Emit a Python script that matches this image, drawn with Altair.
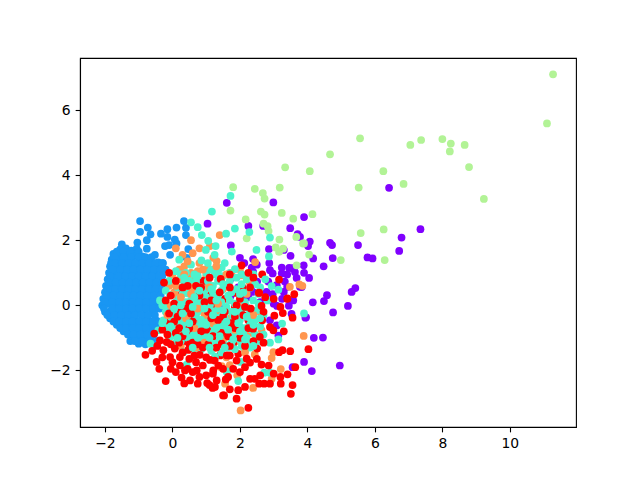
import altair as alt
import pandas as pd

purple = [(6.42,3.61),(7.35,2.34),(6.79,2.08),(6.72,1.67),(4.07,1.96),(4.02,1.82),(3.78,2.1),(4.67,1.92),(4.73,1.85),
(5.5,1.85),(5.78,1.47),(5.93,1.44),(4.17,1.44),(4.75,1.45),(4.48,1.2),(3.89,1.23),(3.9,1.0),(4.05,0.84),(3.83,0.56),
(5.42,0.53),(5.31,0.41),(4.58,0.31),(4.49,0.13),(4.16,0.09),(5.2,-0.02),(4.76,-0.22),(3.94,-0.38),(4.19,-1.0),(4.46,-0.99),
(3.9,-1.74),(4.13,-2.02),(4.96,-1.85),(3.9,2.71),(1.61,3.15),(2.99,3.16),(1.04,2.51),(2.25,2.44),(2.69,2.44),(3.49,2.37),
(3.71,2.19),(1.73,1.84),(2.86,1.73),(3.3,1.7),(3.5,1.52),(2.0,1.46),(2.39,1.42),(2.13,1.3),(2.5,1.25),(2.35,1.16),(2.87,1.3),
(2.89,1.08),(3.24,1.16),(3.46,1.15),(3.56,1.14),(2.97,0.98),(3.24,0.98),(3.4,0.95),(3.63,1.02),(3.68,0.84),(2.39,1.03),
(2.51,0.73),(2.84,0.73),(3.33,0.73),(3.09,0.62),(3.4,0.57),(3.78,0.57),(1.75,0.84),(2.79,0.41),(3.3,0.41),(2.39,0.41),
(2.25,0.25),(3.14,-0.93),(3.1,-0.02),(3.45,-0.01),(3.58,0.15),(3.53,-0.26),(2.89,-0.46),(3.09,-0.62),(2.18,0.26),(1.72,0.28),
(2.97,0.34),(1.46,-0.1),(3.56,-1.9),(3.96,-0.37),(2.6,0.1),(3.0,0.05),(1.95,0.55),(3.25,0.2)]

green = [(11.28,7.1),(11.1,5.59),(5.56,5.13),(7.05,4.93),(7.37,5.08),(8.0,5.11),(8.25,4.97),(8.66,4.93),(8.22,4.73),(8.79,4.25),
(9.23,3.27),(4.67,4.64),(6.25,4.12),(4.07,4.12),(5.52,3.62),(6.85,3.73),(4.15,2.8),(5.58,2.22),(6.26,2.33),(6.29,1.39),
(4.99,1.39),(3.87,1.9),(4.05,1.56),(1.8,3.63),(2.44,3.58),(3.18,3.62),(2.68,3.45),(2.73,3.28),(1.72,2.91),(2.62,2.88),
(2.73,2.79),(3.24,2.84),(3.58,2.66),(2.17,2.64),(2.7,2.51),(2.82,2.43),(2.85,2.28),(2.2,2.06),(3.17,2.02),(3.67,2.1),
(3.9,1.9),(3.06,1.78),(3.28,1.74),(3.16,1.64),(3.68,1.23),(3.34,4.24)]

blue = [(-0.96,2.59),(-0.73,2.39),(-0.96,2.26),(-0.65,2.18),(-0.34,2.2),(-0.15,2.34),(0.12,2.39),(0.34,2.59),(0.4,2.38),(0.4,2.16),
(-0.15,2.1),(0.07,2.02),(-0.76,2.0),(-1.04,1.93),(-1.06,1.74),(-1.5,1.87),(-0.76,1.74),(-0.52,1.55),(-0.22,1.82),(-0.1,1.85),
(0.12,1.9),(-0.07,1.55),(0.47,1.73),(0.42,1.46),(-0.28,1.3),
(-1.55,1.72),(-1.38,1.75),(-1.22,1.68),(-1.75,1.58),(-1.55,1.56),(-1.33,1.58),(-1.12,1.52),(-0.9,1.5),(-0.72,1.42),
(-1.8,1.4),(-1.6,1.38),(-1.4,1.42),(-1.2,1.36),(-1.0,1.33),(-0.8,1.3),(-0.6,1.25),(-0.42,1.32),(-0.2,1.1),
(-1.85,1.2),(-1.65,1.22),(-1.45,1.2),(-1.25,1.18),(-1.05,1.15),(-0.85,1.12),(-0.65,1.08),(-0.45,1.12),
(-1.88,1.0),(-1.7,1.03),(-1.5,1.0),(-1.3,0.98),(-1.1,0.96),(-0.9,0.94),(-0.7,0.9),(-0.5,0.92),(-0.3,0.9),
(-1.92,0.8),(-1.72,0.84),(-1.52,0.8),(-1.32,0.78),(-1.12,0.76),(-0.92,0.74),(-0.72,0.72),(-0.52,0.74),(-0.35,0.7),
(-1.97,0.6),(-1.78,0.64),(-1.58,0.6),(-1.38,0.58),(-1.18,0.56),(-0.98,0.54),(-0.78,0.52),(-0.58,0.54),(-0.4,0.5),
(-2.0,0.4),(-1.8,0.44),(-1.6,0.4),(-1.4,0.38),(-1.2,0.36),(-1.0,0.34),(-0.8,0.32),(-0.6,0.34),(-0.42,0.3),
(-2.05,0.2),(-1.85,0.24),(-1.65,0.2),(-1.45,0.18),(-1.25,0.16),(-1.05,0.14),(-0.85,0.12),(-0.65,0.14),(-0.45,0.1),
(-2.08,0.0),(-1.88,0.04),(-1.68,0.0),(-1.48,-0.02),(-1.28,-0.04),(-1.08,-0.06),(-0.88,-0.08),(-0.68,-0.06),(-0.48,-0.1),
(-2.0,-0.2),(-1.82,-0.17),(-1.62,-0.2),(-1.42,-0.22),(-1.22,-0.24),(-1.02,-0.26),(-0.82,-0.28),(-0.62,-0.26),
(-1.85,-0.4),(-1.68,-0.37),(-1.5,-0.4),(-1.3,-0.42),(-1.1,-0.44),(-0.9,-0.46),(-0.7,-0.48),(-0.5,-0.45),
(-1.65,-0.6),(-1.48,-0.58),(-1.28,-0.6),(-1.08,-0.62),(-0.88,-0.64),(-0.68,-0.66),(-0.48,-0.66),
(-1.45,-0.8),(-1.28,-0.78),(-1.08,-0.8),(-0.88,-0.82),(-0.68,-0.84),
(-1.2,-1.0),(-1.05,-0.98),(-0.85,-1.0),(-0.65,-1.02),(-1.25,-1.1),(-1.0,-1.18),(-0.8,-1.2),(-0.55,-1.2),
(-1.65,1.65),(-1.45,1.65),(-1.25,1.65),(-1.0,1.65),
(-1.72,1.48),(-1.45,1.48),(-1.22,1.48),(-1.0,1.48),(-0.8,1.48),(-0.62,1.48),
(-1.82,1.3),(-1.7,1.3),(-1.5,1.3),(-1.3,1.3),(-1.1,1.3),(-0.9,1.3),(-0.7,1.3),(-0.5,1.3),(-0.3,1.3),
(-1.78,1.1),(-1.55,1.1),(-1.35,1.1),(-1.15,1.1),(-0.95,1.1),(-0.75,1.1),(-0.55,1.1),(-0.35,1.1),
(-1.85,0.9),(-1.6,0.9),(-1.4,0.9),(-1.2,0.9),(-1.0,0.9),(-0.8,0.9),(-0.6,0.9),(-0.4,0.9),
(-1.88,0.7),(-1.68,0.7),(-1.48,0.7),(-1.28,0.7),(-1.08,0.7),(-0.88,0.7),(-0.68,0.7),(-0.48,0.7),(-0.3,0.7),
(-1.92,0.5),(-1.7,0.5),(-1.5,0.5),(-1.3,0.5),(-1.1,0.5),(-0.9,0.5),(-0.7,0.5),(-0.5,0.5),(-0.3,0.5),
(-1.95,0.3),(-1.75,0.3),(-1.55,0.3),(-1.35,0.3),(-1.15,0.3),(-0.95,0.3),(-0.75,0.3),(-0.55,0.3),(-0.35,0.3),
(-2.0,0.1),(-1.78,0.1),(-1.58,0.1),(-1.38,0.1),(-1.18,0.1),(-0.98,0.1),(-0.78,0.1),(-0.58,0.1),(-0.38,0.1),
(-2.03,-0.1),(-1.78,-0.1),(-1.58,-0.1),(-1.38,-0.1),(-1.18,-0.1),(-0.98,-0.1),(-0.78,-0.1),(-0.58,-0.1),(-0.38,-0.1),
(-1.93,-0.3),(-1.72,-0.3),(-1.52,-0.3),(-1.32,-0.3),(-1.12,-0.3),(-0.92,-0.3),(-0.72,-0.3),(-0.52,-0.3),
(-1.75,-0.5),(-1.58,-0.5),(-1.38,-0.5),(-1.18,-0.5),(-0.98,-0.5),(-0.78,-0.5),(-0.58,-0.5),(-0.38,-0.5),
(-1.55,-0.7),(-1.38,-0.7),(-1.18,-0.7),(-0.98,-0.7),(-0.78,-0.7),(-0.58,-0.7),(-0.38,-0.7),
(-1.32,-0.9),(-1.15,-0.9),(-0.95,-0.9),(-0.75,-0.9),(-0.55,-0.9),
(-1.12,-1.1),(-0.9,-1.1),(-0.7,-1.1),(-0.45,-1.1)]

orange = [(3.89,-0.94),(3.85,0.6),(1.4,2.16),(1.11,1.82),(1.21,1.46),(1.31,1.36),(2.45,1.33),(2.04,0.92),(2.28,0.72),(3.76,0.64),
(3.48,0.57),(2.02,-3.23),(2.39,-2.54),(3.21,-1.96),(2.94,-1.62),(2.44,-1.51),(2.99,-1.44),(1.7,-1.84),(1.46,-1.87),(2.64,-0.76),
(1.56,-2.41),(2.94,-2.26),(1.92,-2.15),(2.02,-0.03),(2.25,-1.13),(0.52,-0.26),(0.05,-0.3),(1.01,-0.65),
(1.21,-1.33),(1.41,-1.89),(0.35,1.2),(0.55,1.0),(0.8,1.3),(1.0,0.9),(0.2,0.8),(0.5,0.55),(0.8,0.3),(0.15,0.3),(0.35,0.05),
(0.75,-0.55),(0.45,-0.85),(0.2,-0.55),(1.5,-0.9),(1.7,-0.4),(1.25,0.1),(0.95,0.6),(1.5,0.5),(0.6,1.6),(0.8,1.75),(0.55,2.0),(1.45,-1.2),(0.7,-1.15),
(0.0,0.95),(0.2,1.1),(0.45,0.85),(0.7,0.6),(-0.1,0.6),(0.05,0.4),(0.3,0.5),(0.6,0.15),(0.85,0.0),(0.1,-0.05),(0.35,-0.2),(0.6,-0.4),(0.9,-0.45),
(0.15,-0.75),(0.4,-0.55),(0.55,-1.0),(0.85,-1.05),(1.1,-0.8),(1.35,-0.6),(1.6,-0.15),(1.2,0.35),(1.45,0.75),(1.75,1.0),(2.0,1.1),(0.25,-1.25),
(-0.25,-0.6),(-0.1,-1.0),(0.95,0.35),(0.3,1.55),(0.1,1.75),(0.75,1.05),(1.05,1.15),(0.6,0.75),(1.3,-0.25),(0.8,-1.3),(1.6,-1.6),(1.9,-1.1),(2.3,-0.85),(2.6,-0.2),(2.2,0.35)]

orange_under = [(-0.96,0.22),(-0.76,-0.46)]

orange_over = [(0.35,0.95),(0.6,0.55),(0.25,0.25),(0.75,-0.1),(0.4,-0.4),(0.65,-0.7),(0.95,-0.3),(0.2,-0.95),(0.55,0.35),(-0.05,0.0),(0.1,0.6),
(1.1,0.55),(0.9,1.1),(1.3,1.2),(1.6,0.95),(1.2,-0.55),(1.55,-1.0),(0.95,-1.15),(1.85,-0.75),(2.15,-1.45),(1.35,0.05),(2.4,-0.3),(0.45,1.35),(0.7,-1.3),(-0.15,-0.3)]

red_under = [(1.21,-2.0),(1.41,-1.54),(1.7,-1.54),(1.95,-1.49),(1.8,-1.18),(1.31,-1.28),(1.21,-0.67),(1.33,0.0),(1.85,-0.05),(2.25,-0.46),
(2.05,1.23),(2.66,0.95),(1.43,0.81),(2.07,0.56),(1.88,0.38),(2.07,0.45),(-0.09,-0.51),(0.32,-0.62),(0.67,-0.36),(-0.17,-0.15),
(0.15,0.12),(0.27,-0.1),(0.29,0.38),(0.7,0.26),(1.31,0.0),(0.6,-0.8),(0.95,-0.9),(1.6,-0.7),(1.0,0.35),(0.4,-1.1),(1.55,0.2),(0.9,0.75)]

turquoise = [(3.9,-0.25),(1.72,3.36),(1.17,2.88),(1.85,2.36),(2.28,2.25),(1.59,2.2),(0.87,2.16),(1.06,1.98),(1.28,1.82),(1.76,1.65),
(2.49,1.7),(2.89,2.08),(2.86,1.5),(0.99,1.7),(0.86,1.38),(1.85,1.11),(2.94,0.59),(3.14,0.48),(2.3,0.54),(1.46,1.16),
(3.14,-1.05),(2.89,-1.15),(2.72,-2.07),(2.89,-2.07),(1.95,-2.33),(2.02,-1.74),(1.61,-2.03),(1.26,-1.58),(2.0,-0.87),(1.56,-1.22),
(2.39,0.15),(2.81,0.15),(3.25,-0.56),(-0.65,-1.18),(-0.42,-0.77),(-0.27,-0.46),(0.22,-0.36),(0.02,-0.72),(0.27,-0.77),(0.62,-0.92),
(0.91,-1.02),(0.32,-1.44),(0.42,-1.82),(1.61,-2.05),(1.31,-0.66),(0.72,0.05),(1.11,0.0),(0.47,0.36),(0.96,-0.26),(-0.37,0.15),(-0.07,0.31),
(0.55,2.55),(0.75,2.4),(0.4,1.0),(0.65,0.95),(1.0,1.0),(1.25,0.95),(1.5,0.9),(0.15,0.55),(0.5,0.75),(0.85,0.55),(1.2,0.6),(1.55,0.6),(1.9,0.85),
(0.1,0.1),(0.4,0.1),(0.6,0.3),(1.0,0.25),(1.35,0.3),(1.7,0.15),(2.0,0.2),
(0.0,-0.2),(0.5,-0.05),(0.75,-0.2),(1.2,-0.2),(1.45,-0.35),(1.75,-0.2),(2.05,-0.25),(2.3,-0.2),
(-0.05,-0.95),(0.3,-0.5),(0.5,-0.5),(0.85,-0.6),(1.1,-0.5),(1.5,-0.6),(1.85,-0.55),(2.15,-0.7),(2.45,-0.45),
(0.45,-1.0),(0.8,-0.8),(1.15,-0.9),(1.4,-0.85),(1.75,-0.95),(2.2,-1.0),(2.45,-0.9),
(1.0,-1.2),(1.3,-1.15),(1.65,-1.3),(2.05,-1.25),(2.3,-1.3),(0.65,-1.35),(-0.2,-0.2),(0.1,-1.15),(1.9,0.5),(2.2,0.8),(2.6,0.55),
(0.1,1.05),(0.25,0.95),(0.75,0.9),(1.15,1.1),(1.35,1.05),(1.7,1.0),(2.05,0.95),(2.4,0.95),
(-0.1,0.75),(0.35,0.7),(0.7,0.75),(1.05,0.75),(1.35,0.75),(1.7,0.75),(2.05,0.65),(2.45,0.65),(2.75,0.8),
(-0.2,0.45),(0.3,0.35),(0.7,0.45),(0.95,0.45),(1.2,0.4),(1.45,0.45),(1.75,0.4),(2.1,0.4),(2.55,0.35),
(-0.3,0.0),(0.2,0.2),(0.55,0.15),(0.85,0.15),(1.2,0.2),(1.45,0.1),(1.85,0.05),(2.15,0.1),(2.55,0.05),
(-0.15,-0.05),(0.25,-0.1),(0.6,-0.15),(0.9,-0.1),(1.1,-0.15),(1.35,-0.1),(1.6,-0.05),(1.95,-0.1),(2.2,-0.05),(2.5,-0.15),
(-0.05,-0.35),(0.15,-0.45),(0.45,-0.3),(0.7,-0.35),(1.0,-0.4),(1.25,-0.35),(1.55,-0.4),(1.8,-0.35),(2.0,-0.45),(2.3,-0.4),(2.7,-0.3),
(-0.15,-0.7),(0.1,-0.6),(0.4,-0.65),(0.65,-0.6),(0.95,-0.65),(1.2,-0.6),(1.4,-0.65),(1.65,-0.6),(2.0,-0.65),(2.3,-0.6),(2.6,-0.65),
(0.15,-0.9),(0.35,-0.85),(0.7,-0.9),(0.95,-0.85),(1.25,-0.75),(1.55,-0.8),(1.85,-0.85),(2.1,-0.85),(2.35,-0.75),(2.7,-0.9),
(0.25,-1.1),(0.6,-1.15),(0.9,-1.1),(1.15,-1.1),(1.5,-1.05),(1.75,-1.15),(2.0,-1.05),(2.25,-1.15),(2.55,-1.1),
(0.85,-1.35),(1.15,-1.4),(1.45,-1.45),(1.85,-1.35),(2.15,-1.4),
(0.55,1.25),(1.05,1.3),(1.55,1.3),(0.2,1.4),(1.25,1.55)]

turquoise_top = [(0.5,-0.55),(0.85,-0.45),(1.2,-0.3),(1.6,-0.5),(1.95,-0.55),(0.3,-0.25),(0.75,-1.0),(1.1,-1.0),(1.4,-0.95),(1.8,-1.05),(2.15,-1.05),
(2.4,-0.6),(0.95,-0.1),(1.3,0.15),(1.65,0.3),(2.0,0.35),(0.6,-0.05),(0.25,0.0),(-0.3,-0.55),(-0.05,-0.65),(0.4,-0.8),(1.0,-0.6),(1.5,-0.15),(1.85,-0.2),
(2.2,-0.35),(1.15,0.5),(0.8,0.45),(1.5,0.65),(0.35,0.85),(0.15,-1.0),(1.3,-0.7),(2.0,-0.8),(1.65,-0.75),(0.6,-1.3),(1.1,-1.3),(1.55,-1.3),(2.4,-1.25),(2.6,-0.4),(0.05,-0.1),(0.65,0.25)]

red_over = [(3.16,0.79),(2.57,0.39),(3.4,0.2),(3.61,0.34),(1.43,0.81),(3.56,-0.38),(3.27,-0.24),(3.02,-0.32),(3.41,0.21),(2.56,0.38),
(2.64,-0.02),(2.32,-0.1),(2.66,-0.46),(2.39,-0.72),(2.89,-0.67),(2.99,-0.77),(2.59,-0.97),(2.51,-1.33),(3.16,-1.44),(3.26,-1.38),
(3.49,-1.41),(4.03,-1.35),(2.2,-1.64),(2.3,-1.76),(2.64,-1.82),(3.64,-1.9),(3.41,-2.12),(3.56,-2.45),(3.21,-2.41),(3.51,-2.72),
(2.89,-2.41),(2.72,-2.41),(2.57,-2.41),(2.44,-2.26),(2.3,-2.26),(2.15,-2.51),(1.95,-2.61),(1.9,-2.87),(1.5,-2.77),(1.7,-2.58),
(1.58,-2.28),(1.26,-2.51),(1.1,-2.45),(2.25,-3.15),(-0.8,-1.52),(-0.2,-2.33),(-0.47,-1.74),(-0.39,-1.95),(-0.05,-1.95),(0.22,-1.85),
(0.27,-2.22),(0.52,-2.31),(0.75,-2.41),(1.03,-2.39),(1.19,-2.54),(1.53,-2.77),(1.31,-2.31),(-0.37,-1.08),(-0.17,-1.13),(-0.54,-0.87),
(1.06,-1.2),(0.07,-1.33),(0.47,-1.37),(0.81,-1.52),(1.11,-1.68),(0.72,-2.0),(0.37,-2.0),(1.36,-1.85),(1.61,-1.54),(1.46,-1.18),
(-0.27,-1.38),(-0.07,-1.59),(0.22,-1.59),(0.5,-1.65),(0.9,-1.85),(1.2,-2.1),(1.8,-1.95),(2.0,-2.05),(0.35,-2.4),(0.6,-2.05),
(1.0,-0.75),(0.5,-0.7),(0.25,-0.2),(0.95,0.1),(1.5,-0.35),(1.85,-0.7),(2.1,-0.3),(1.2,-0.95),(2.4,-1.1),
(0.1,0.75),(-0.05,0.3),(0.45,0.6),(-0.2,0.15),(0.05,-0.5),(-0.3,-0.75),(-0.15,-0.9),(0.1,-0.85),(0.3,-0.95),(0.2,-1.15),(-0.05,-1.2),
(0.6,-1.15),(0.75,-1.2),(0.9,-1.3),(-0.45,-1.25),(-0.6,-1.4),(-0.3,-1.6),(0.0,-1.75),(0.45,-1.95),(0.7,-1.75),(1.0,-1.6),(1.25,-1.7),
(1.5,-1.95),(1.0,-2.15),(1.65,-2.2),(0.1,-2.05),(0.8,-2.2),(1.9,-1.7),(2.15,-1.9),(2.5,-1.65),(2.85,-1.85),(3.0,-2.1),(2.6,-2.15),(3.2,-2.2),
(0.3,-1.45),(0.65,-1.55),(1.7,-1.25),(2.15,-1.25),(2.7,-1.15),(3.3,-0.8),(1.35,-0.45),(1.05,-0.2),(0.55,-0.25),(0.8,0.3),(1.4,0.4),(1.7,0.55),
(2.0,0.2),(2.3,0.55),(2.75,0.25),(2.25,1.0),(2.7,-0.2),(3.2,-0.05),(3.0,0.2),(1.85,-0.35),(2.25,-0.7)]

red_more = [(0.3,0.55),(0.05,0.05),(0.4,-0.1),(0.7,0.6),(1.15,0.15),(1.55,-0.2),(1.15,-0.4),(0.85,-0.8),(1.45,-0.85),(1.75,-0.55),(0.5,0.05),
(0.15,-0.35),(-0.1,-0.25),(1.9,0.0),(2.15,-0.05),(0.6,-0.5),(0.2,-0.7),(1.65,-0.95),(2.0,-1.0),(1.3,-1.3),(0.5,-1.2),(1.7,0.95),(2.4,0.85),(1.1,0.85),(0.85,0.55),(-0.25,0.7),(-0.1,1.0)]

groups = [("purple", purple), ("green", green), ("orange", orange_under), ("blue", blue), ("orange", orange),
          ("red", red_under), ("turquoise", turquoise), ("orange", orange_over), ("red", red_over), ("red", red_more),
          ("turquoise", turquoise_top)]
rows = [{"x": x, "y": y, "c": name} for name, pts in groups for x, y in pts]
df = pd.DataFrame(rows)

names = ["purple", "blue", "turquoise", "green", "orange", "red"]
colors = ["#8000ff", "#1996f3", "#4df3ce", "#b2f396", "#ff964f", "#ff0000"]
x_ticks = [-2, 0, 2, 4, 6, 8, 10]
y_ticks = [-2, 0, 2, 4, 6]

axis_style = dict(grid=False, title=None, domainColor="black", domainWidth=1.1, tickColor="black", tickWidth=1.1,
                  tickSize=4.86, labelColor="black", labelFont="DejaVu Sans", labelFontSize=13.9, labelPadding=5)

chart = alt.Chart(df).mark_point(filled=True, opacity=1, size=60, strokeWidth=0).encode(
    x=alt.X("x:Q", scale=alt.Scale(domain=[-2.74, 11.96], nice=False, zero=False), axis=alt.Axis(values=x_ticks, **axis_style)),
    y=alt.Y("y:Q", scale=alt.Scale(domain=[-3.74, 7.6], nice=False, zero=False), axis=alt.Axis(values=y_ticks, **axis_style)),
    color=alt.Color("c:N", scale=alt.Scale(domain=names, range=colors), legend=None),
).properties(
    width=496, height=369,
    autosize=alt.AutoSizeParams(type="none"),
    padding={"left": 72, "top": 50, "right": 56, "bottom": 45},
    background="white",
).configure_view(stroke="black", strokeWidth=1.1)

chart.save("out.html", embed_options={"renderer": "svg", "actions": False})
